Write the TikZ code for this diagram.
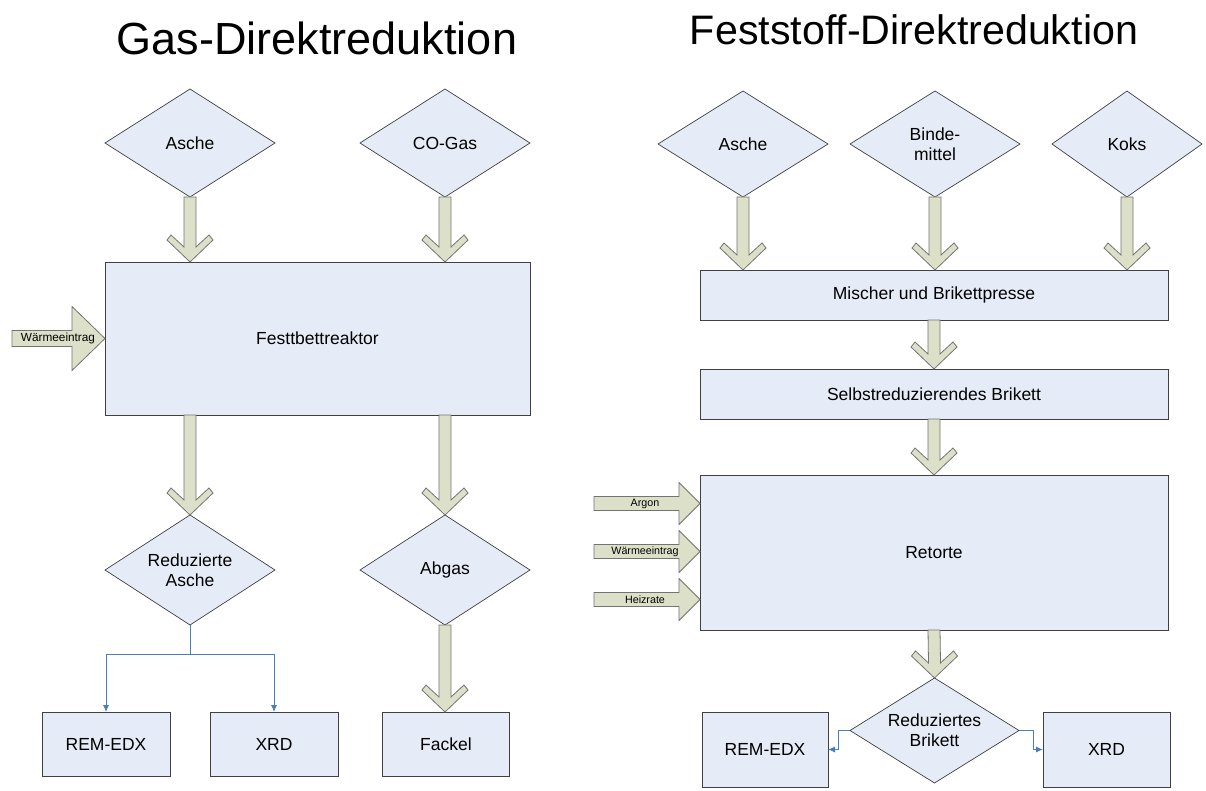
\documentclass[tikz,border=0pt]{standalone}
\usepackage{fontspec}
\setmainfont{Liberation Sans}
\usepackage{tikz}
\usetikzlibrary{calc,shapes.geometric,arrows.meta}

\definecolor{boxfill}{RGB}{230,236,247}
\definecolor{boxline}{RGB}{64,64,64}
\definecolor{arrowfill}{RGB}{221,224,200}
\definecolor{arrowline}{RGB}{115,115,115}
\definecolor{linkblue}{RGB}{74,126,187}

\newcommand{\fatdown}[2]{%
  \draw[fatarrow] ($(#1)+(-6,0)$) -- ($(#2)+(-6,-15)$) -- ($(#2)+(-19,-27)$) -- ($(#2)+(-23,-22)$) -- (#2)
    -- ($(#2)+(23,-22)$) -- ($(#2)+(19,-27)$) -- ($(#2)+(6,-15)$) -- ($(#1)+(6,0)$) -- cycle;}
\newcommand{\fatright}[5]{%
  \draw[fatarrow] ($(#1)+(0,-#3)$) -- ($(#2)+(-#5,-#3)$) -- ($(#2)+(-#5,-#4)$) -- (#2)
    -- ($(#2)+(-#5,#4)$) -- ($(#2)+(-#5,#3)$) -- ($(#1)+(0,#3)$) -- cycle;}

\begin{document}
\begin{tikzpicture}[x=1pt,y=-1pt,
    box/.style={draw=boxline,fill=boxfill,line width=0.9pt,outer sep=0pt,inner sep=0pt,
      font=\fontsize{17.5}{20}\selectfont},
    raute/.style={diamond,aspect=1.6,draw=boxline,fill=boxfill,line width=0.7pt,outer sep=0pt,inner sep=0pt,
      minimum width=170pt,minimum height=108pt,align=center,font=\fontsize{17.5}{20}\selectfont},
    fatarrow/.style={draw=arrowline,fill=arrowfill,line width=0.8pt,line join=miter},
    smalltext/.style={inner sep=0pt,font=\fontsize{#1}{13}\selectfont},
    link/.style={draw=linkblue,line width=0.9pt,-{Latex[length=7pt,width=6pt]}},
    titel/.style={anchor=base,font=\fontsize{#1}{50}\selectfont}]
  \useasboundingbox (0,0) rectangle (1206,791);

  \node[titel=45] (titelA) at (317,55) {Gas-Direktreduktion};
  \node[titel=41.2] (titelB) at (914,45) {Feststoff-Direktreduktion};

  \node[raute] (ascheA) at (190,143) {Asche};
  \node[raute] (cogas) at (445,143) {CO-Gas};
  \node[box,minimum width=425pt,minimum height=153pt] (reaktor) at (317.5,338.5) {Festtbettreaktor};
  \node[raute,minimum height=110pt] (redasche) at (190,570) {Reduzierte\\Asche};
  \node[raute,minimum height=110pt] (abgas) at (445,570) {Abgas};
  \node[box,minimum width=128pt,minimum height=64pt] (remA) at (106,744) {REM-EDX};
  \node[box,minimum width=128pt,minimum height=64pt] (xrdA) at (274,744) {XRD};
  \node[box,minimum width=127pt,minimum height=64pt] (fackel) at (446,744) {Fackel};

  \fatdown{ascheA.south}{ascheA.south |- reaktor.north}
  \fatdown{cogas.south}{cogas.south |- reaktor.north}
  \fatdown{redasche.north |- reaktor.south}{redasche.north}
  \fatdown{abgas.north |- reaktor.south}{abgas.north}
  \fatdown{abgas.south}{abgas.south |- fackel.north}

  \coordinate (waermeA) at ($(reaktor.west)+(-93,0)$);
  \fatright{waermeA}{reaktor.west}{8}{32}{33}
  \node[smalltext=11.8] (waermeAtext) at ($(reaktor.west)+(-47,0)$) {Wärmeeintrag};

  \draw[link] (redasche.south) -- ++(0,29) -| (remA.north);
  \draw[link] (redasche.south) -- ++(0,29) -| (xrdA.north);

  \node[raute,minimum height=106pt] (ascheB) at (743,144) {Asche};
  \node[raute,minimum height=106pt] (binder) at (935,144) {Binde-\\mittel};
  \node[raute,minimum width=150pt,minimum height=106pt] (koks) at (1127,144) {Koks};
  \node[box,minimum width=468pt,minimum height=50pt] (mischer) at (934,295) {Mischer und Brikettpresse};
  \node[box,minimum width=468pt,minimum height=50pt] (brikett) at (934,394) {Selbstreduzierendes Brikett};
  \node[box,minimum width=468pt,minimum height=155pt] (retorte) at (934,552.5) {Retorte};
  \node[raute,minimum width=169pt,minimum height=105pt] (redbrikett) at (934.5,730.5) {Reduziertes\\Brikett};
  \node[box,minimum width=126pt,minimum height=75pt] (remB) at (765,749.5) {REM-EDX};
  \node[box,minimum width=127pt,minimum height=75pt] (xrdB) at (1106.5,749.5) {XRD};

  \fatdown{ascheB.south}{ascheB.south |- mischer.north}
  \fatdown{binder.south}{binder.south |- mischer.north}
  \fatdown{koks.south}{koks.south |- mischer.north}
  \fatdown{mischer.south}{brikett.north}
  \fatdown{brikett.south}{retorte.north}
  \fatdown{retorte.south}{redbrikett.north}

  \coordinate (argonEnd) at ($(retorte.west)+(0,-49)$);
  \coordinate (waermeEnd) at ($(retorte.west)+(0,-1)$);
  \coordinate (heizEnd) at ($(retorte.west)+(0,47)$);
  \coordinate (argon) at ($(argonEnd)+(-106,0)$);
  \coordinate (waermeB) at ($(waermeEnd)+(-106,0)$);
  \coordinate (heiz) at ($(heizEnd)+(-106,0)$);
  \fatright{argon}{argonEnd}{7}{21}{21}
  \fatright{waermeB}{waermeEnd}{7}{21}{21}
  \fatright{heiz}{heizEnd}{7}{21}{21}
  \node[smalltext=10.7] (argontext) at ($(argonEnd)+(-55,0)$) {Argon};
  \node[smalltext=10.7] (waermeBtext) at ($(waermeEnd)+(-55,0)$) {Wärmeeintrag};
  \node[smalltext=10.7] (heiztext) at ($(heizEnd)+(-55,0)$) {Heizrate};

  \draw[link] (redbrikett.west) -- ++(-12,0) |- (remB.east);
  \draw[link] (redbrikett.east) -- ++(14,0) |- (xrdB.west);
\end{tikzpicture}
\end{document}
